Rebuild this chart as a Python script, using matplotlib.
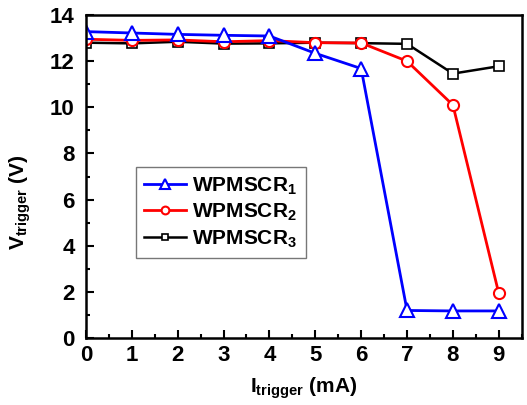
import matplotlib
matplotlib.use("Agg")
import matplotlib.pyplot as plt
from matplotlib.ticker import MultipleLocator

plt.rcParams['font.family'] = ['Liberation Sans', 'DejaVu Sans']
plt.rcParams['font.weight'] = 'bold'
plt.rcParams['mathtext.fontset'] = 'custom'
plt.rcParams['mathtext.rm'] = 'Liberation Sans:bold'
plt.rcParams['mathtext.bf'] = 'Liberation Sans:bold'
plt.rcParams['mathtext.it'] = 'Liberation Sans:bold'
plt.rcParams['mathtext.default'] = 'bf'

current = [0, 1, 2, 3, 4, 5, 6, 7, 8, 9]
wpmscr1 = [13.28, 13.22, 13.16, 13.12, 13.09, 12.34, 11.68, 1.2, 1.18, 1.18]
wpmscr2 = [12.95, 12.9, 12.92, 12.84, 12.89, 12.8, 12.79, 12.0, 10.1, 1.94]
wpmscr3 = [12.8, 12.77, 12.84, 12.76, 12.77, 12.8, 12.78, 12.75, 11.46, 11.78]
labels = [r"WPMSCR$_1$", r"WPMSCR$_2$", r"WPMSCR$_3$"]

fig = plt.figure(figsize=(5.27, 4.05), dpi=100)
ax = fig.add_axes([0.163, 0.165, 0.827, 0.798])

ax.plot(current, wpmscr3, color='black', lw=1.8, marker='s', ms=7,
        mfc='white', mec='black', mew=1.2, label=labels[2], zorder=1.5)
ax.plot(current, wpmscr2, color='#ff0000', lw=2, marker='o', ms=8,
        mfc='white', mec='#ff0000', mew=1.5, label=labels[1], zorder=2)
ax.plot(current, wpmscr1, color='#0000ff', lw=2, marker='^', ms=10,
        mfc='white', mec='#0000ff', mew=1.5, label=labels[0], zorder=2.5)

ax.set_xlim(0, 9.5)
ax.set_ylim(0, 14)
ax.xaxis.set_major_locator(MultipleLocator(1))
ax.xaxis.set_minor_locator(MultipleLocator(0.5))
ax.yaxis.set_major_locator(MultipleLocator(2))
ax.yaxis.set_minor_locator(MultipleLocator(1))
ax.tick_params(which='both', direction='in', top=False, right=False, width=1.5)
ax.tick_params(which='major', length=6, labelsize=16)
ax.tick_params(axis='y', which='major', pad=8)
ax.tick_params(axis='x', which='major', pad=5)
ax.tick_params(which='minor', length=3)
for lbl in ax.get_xticklabels() + ax.get_yticklabels():
    lbl.set_fontweight('bold')
for s in ax.spines.values():
    s.set_linewidth(1.8)

ax.set_xlabel(r"I$_{\mathrm{trigger}}$ (mA)", fontsize=15, fontweight='bold', labelpad=7)
ax.set_ylabel(r"V$_{\mathrm{trigger}}$ (V)", fontsize=15, fontweight='bold')
ax.yaxis.set_label_coords(-0.122, 0.42)

handles, hl = ax.get_legend_handles_labels()
order = [2, 1, 0]
leg = ax.legend([handles[i] for i in order], [hl[i] for i in order],
                loc='upper left', bbox_to_anchor=(0.115, 0.53),
                borderaxespad=0, markerscale=0.7,
                frameon=True, fancybox=False, edgecolor='#555555',
                handlelength=2.0, handletextpad=0.3, borderpad=0.4,
                labelspacing=0.25, prop={'weight': 'bold', 'size': 15})
leg.get_frame().set_linewidth(1.0)

fig.savefig("out.png", dpi=100)
